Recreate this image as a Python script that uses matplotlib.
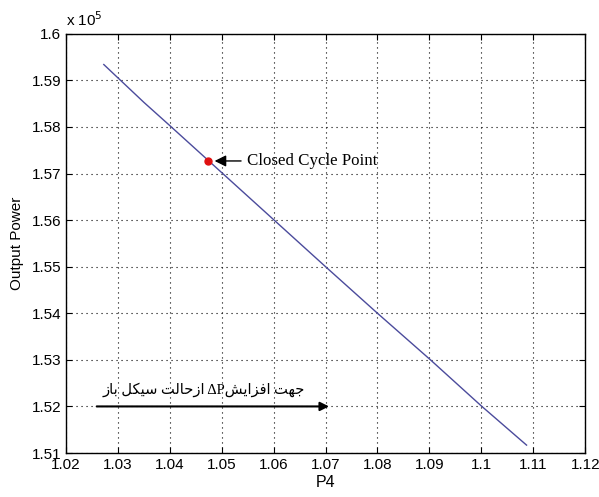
import matplotlib.pyplot as plt
import numpy as np

# output power (x 1e5) against P4
p4 = [1.0273, 1.035, 1.04, 1.05, 1.06, 1.07, 1.08, 1.09, 1.10, 1.1087]
power = [1.5934, 1.5853, 1.5803, 1.5702, 1.5601, 1.5500, 1.5400, 1.5302, 1.5201, 1.5117]

closed_x, closed_y = 1.0473, 1.5727

xticks = [1.02, 1.03, 1.04, 1.05, 1.06, 1.07, 1.08, 1.09, 1.10, 1.11, 1.12]
xticklabels = ['1.02', '1.03', '1.04', '1.05', '1.06', '1.07', '1.08', '1.09', '1.1', '1.11', '1.12']
yticks = [1.51, 1.52, 1.53, 1.54, 1.55, 1.56, 1.57, 1.58, 1.59, 1.60]
yticklabels = ['1.51', '1.52', '1.53', '1.54', '1.55', '1.56', '1.57', '1.58', '1.59', '1.6']

# persian caption in visual order, pre-shaped presentation forms
words = [
    '\uFEAF\uFE8E\uFE91',                    # baz
    '\uFEDE\uFB91\uFBFF\uFEB3',              # sikl
    '\uFE96\uFEDF\uFE8E\uFEA3\uFEAF\uFE8D',  # azhalat
    '\u0394P\uFEB6\uFBFE\uFE8D\uFEB0\uFED3\uFE8D',  # dP afzayesh
    '\uFE96\uFEEC\uFE9F',                    # jahat
]
caption = ' '.join(words)

plt.rcParams['font.family'] = ['Liberation Sans', 'DejaVu Sans']

fig = plt.figure(figsize=(5.99, 4.97), dpi=100)
ax = fig.add_axes([0.110, 0.0885, 0.867, 0.8435])

ax.plot(p4, power, color='#4b4b9c', lw=1.0)
ax.plot([closed_x], [closed_y], 'o', color='#e01010', ms=5, zorder=5)

ax.annotate('Closed Cycle Point', xy=(closed_x + 0.0008, closed_y), xytext=(1.0548, closed_y),
            fontsize=12.2, family=['Liberation Serif'], va='center', ha='left',
            arrowprops=dict(arrowstyle='-|>', color='black', lw=1.0, mutation_scale=17))

ax.annotate('', xy=(1.0712, 1.52), xytext=(1.0254, 1.52),
            arrowprops=dict(arrowstyle='-|>', color='black', lw=1.5, mutation_scale=13))
ax.text(1.0465, 1.5235, caption, fontsize=10.5, ha='center', va='center',
        family=['Liberation Serif', 'DejaVu Sans'])

ax.set_xlim(1.02, 1.12)
ax.set_ylim(1.51, 1.60)
ax.set_xticks(xticks)
ax.set_xticklabels(xticklabels)
ax.set_yticks(yticks)
ax.set_yticklabels(yticklabels)
ax.tick_params(direction='in', top=True, right=True, labelsize=11, length=4)
ax.grid(True, color='black', linestyle=(0, (1, 3.5)), lw=0.8)
for s in ax.spines.values():
    s.set_linewidth(1.0)

ax.set_xlabel('P4', fontsize=11.5, labelpad=2)
ax.set_ylabel('Output Power', fontsize=11, labelpad=5)
ax.text(0.0, 1.012, r'x 10$^5$', transform=ax.transAxes, fontsize=11, ha='left', va='bottom')

fig.savefig('out.png', dpi=100)
